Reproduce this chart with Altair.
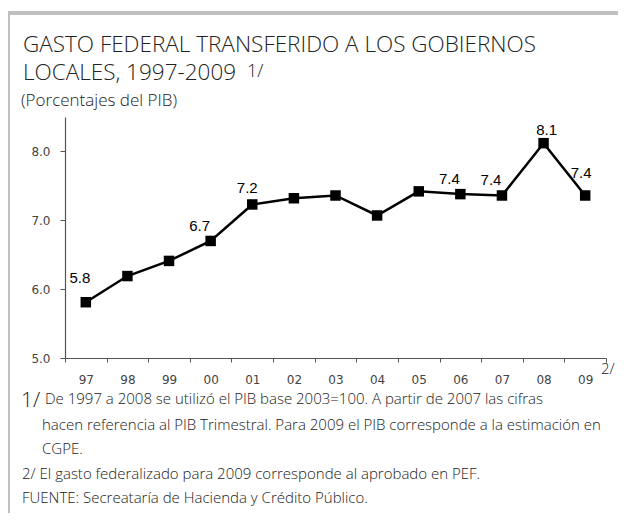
import altair as alt
import pandas as pd

years = ["97", "98", "99", "00", "01", "02", "03", "04", "05", "06", "07", "08", "09"]
values = [5.81, 6.19, 6.41, 6.70, 7.23, 7.32, 7.36, 7.07, 7.42, 7.38, 7.36, 8.12, 7.36]
labels = ["5.8", "", "", "6.7", "7.2", "", "", "", "", "7.4", "7.4", "8.1", "7.4"]
y_ticks = [5.0, 6.0, 7.0, 8.0]

title_lines = ["GASTO FEDERAL TRANSFERIDO A LOS GOBIERNOS", "LOCALES, 1997-2009"]
title_note = "1/"
subtitle = "(Porcentajes del PIB)"
note1_mark = "1/"
note1_lines = [
    "De 1997 a 2008 se utilizó el PIB base 2003=100. A partir de 2007 las cifras",
    "hacen referencia al PIB Trimestral. Para 2009 el PIB corresponde a la estimación en",
    "CGPE.",
]
note2 = "2/ El gasto federalizado para 2009 corresponde al aprobado en PEF."
source = "FUENTE: Secreatar\u00eda de Hacienda y Cr\u00e9dito P\u00fablico."
axis_note = "2/"

df = pd.DataFrame({"year": years, "value": values, "label": labels})
base = alt.Chart(df)

W, H = 541, 241
TXT_FONT = "Open Sans"

xenc = alt.X(
    "year:N",
    sort=years,
    scale=alt.Scale(paddingInner=0, paddingOuter=0),
    axis=alt.Axis(
        title=None, labelAngle=0, tickBand="extent", tickSize=4, labelPadding=12,
        labelFont="DejaVu Sans", labelFontSize=12, labelColor="#444444",
        domainColor="#555555", tickColor="#555555", domainWidth=1.2,
    ),
)
yenc = alt.Y(
    "value:Q",
    scale=alt.Scale(domain=[5, 8.5], nice=False, zero=False),
    axis=alt.Axis(
        title=None, values=y_ticks, format=".1f", grid=False, tickSize=5, labelPadding=10,
        labelFont="DejaVu Sans", labelFontSize=12, labelColor="#444444",
        domainColor="#555555", tickColor="#555555", domainWidth=1.2,
    ),
)

line = base.mark_line(color="black", strokeWidth=2.5).encode(x=xenc, y=yenc)
pts = base.mark_point(shape="square", size=110, filled=True, color="black", opacity=1).encode(
    x=alt.X("year:N", sort=years), y="value:Q"
)

# label placement styling (offsets in pixels, by label group)
label_styles = [
    (["97"], -6, -24),
    (["00", "06", "07"], -11, -15),
    (["01"], -5, -16),
    (["08"], 3, -13),
    (["09"], -4, -22),
]
lbl_layers = [
    base.transform_filter(alt.FieldOneOfPredicate(field="year", oneOf=grp)).mark_text(
        font="Liberation Sans", fontSize=15, color="black", dx=dx, dy=dy, baseline="middle"
    ).encode(x=alt.X("year:N", sort=years), y="value:Q", text="label:N")
    for grp, dx, dy in label_styles
]


def txt(s, x, y, size=13, weight=400, font=TXT_FONT, color="#222222"):
    return alt.Chart(pd.DataFrame({"t": [s]})).mark_text(
        align="left", baseline="alphabetic", fontSize=size, fontWeight=weight, font=font, color=color
    ).encode(x=alt.value(x), y=alt.value(y), text="t:N")


ann = [
    txt(title_lines[0], -42, -65, size=22.5, weight=300),
    txt(title_lines[1], -42, -37, size=22.5, weight=300),
    txt(title_note, 182, -40, size=18, weight=300),
    txt(subtitle, -44, -11, size=17, weight=300),
    txt(note1_mark, -44, 290, size=21, weight=300),
    txt(note1_lines[0], -20, 287, size=15, weight=300),
    txt(note1_lines[1], -23, 313, size=15, weight=300),
    txt(note1_lines[2], -23, 337, size=15, weight=300),
    txt(note2, -43, 362, size=15, weight=300),
    txt(source, -43, 386, size=15, weight=300),
    txt(axis_note, 536, 257, size=15, weight=300),
]

border_color = "#c0c0c0"
top_border = alt.Chart(pd.DataFrame({"a": [0]})).mark_rule(color=border_color, strokeWidth=4).encode(
    x=alt.value(-57), x2=alt.value(560), y=alt.value(-104)
)
left_border = alt.Chart(pd.DataFrame({"a": [0]})).mark_rule(color=border_color, strokeWidth=3).encode(
    x=alt.value(-56.5), y=alt.value(-106), y2=alt.value(410)
)

chart = alt.layer(top_border, left_border, line, pts, *lbl_layers, *ann).properties(
    width=W,
    height=H,
    autosize=alt.AutoSizeParams(type="none"),
    padding={"left": 57, "top": 109, "right": 12, "bottom": 155},
).configure_view(stroke=None)

chart.save("out.html", embed_options={"renderer": "svg", "actions": False})
